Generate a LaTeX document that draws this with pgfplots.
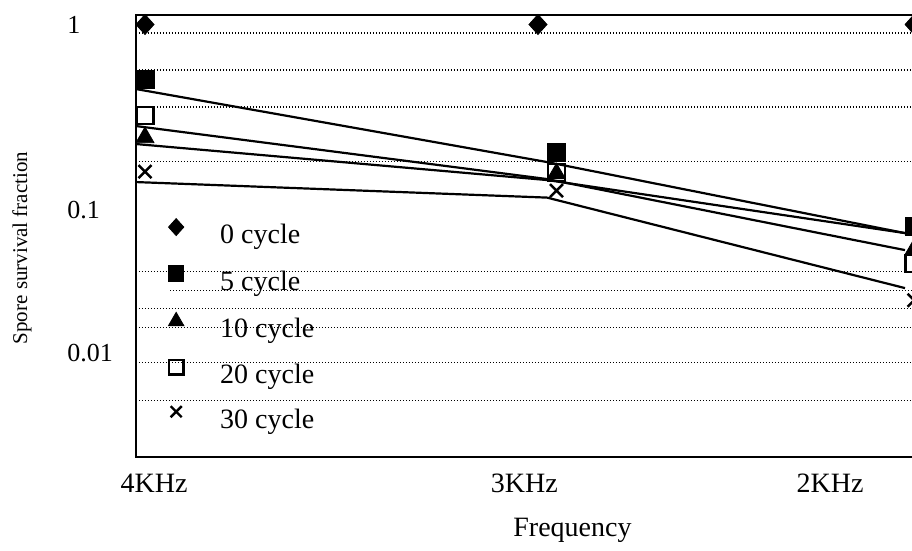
\documentclass[border=0pt]{standalone}
\usepackage{fontspec}
\setmainfont{Liberation Serif}
\usepackage{pgfplots}
\usepackage{pgfplotstable}
\pgfplotsset{compat=1.18}

% survival fraction read at each marker
\pgfplotstableread{
freq  xm     x0     c0   c5     c10    c20    c30
4     0      0      1    0.509  0.247  0.324  0.162
3     1      0.955  1    0.206  0.158  0.160  0.128
2     1.869  1.869  1    0.0772 0.0535 0.0425 0.0235
}\markdata

% vertices of the connecting lines
\pgfplotstableread{
freq  xl       c5     c10    c20    c30
4     -0.02187 0.4499 0.2278 0.2846 0.1423
3     0.9769   0.1823 0.1459 0.1477 0.1174
2     1.8469   0.0695 0.0695 0.0528 0.02859
}\linedata

\tikzset{dotgrid/.style={black, line width=0.6pt, dash pattern=on 0.6pt off 0.9pt}}
\pgfplotsset{
  mk/.style={black, only marks,
    legend image code/.code={\draw[##1] plot coordinates {(0pt,0pt)};}},
}

\begin{document}
\begin{tikzpicture}
\begin{axis}[
  name=ax,
  scale only axis,
  width=399.5pt, height=221pt,
  clip=false,
  axis line style={line width=1pt},
  major tick length=0pt,
  xmin=-0.02187, xmax=1.9198,
  % survival fraction on a stretched logarithmic scale
  y coord trafo/.code={%
    \pgfmathparse{log10(#1)}\let\Lv=\pgfmathresult
    \pgfmathparse{\Lv >= -1 ? 186*\Lv : -186+142.5*(\Lv+1)}},
  y coord inv trafo/.code={%
    \pgfmathparse{#1 >= -186 ? 10^(#1/186) : 10^(-1+(#1+186)/142.5)}},
  ymin=0.001872, ymax=1.129,
  xtick={0.0219,0.922,1.665},
  xticklabels={4KHz,3KHz,2KHz},
  xticklabel style={anchor=north, inner sep=0pt, yshift=-8.4pt,
    font=\fontsize{14}{16}\selectfont},
  ytick={1,0.1,0.01},
  yticklabels={1,0.1,0.01},
  yticklabel style={anchor=west, inner sep=0pt, xshift=-34.5pt,
    font=\fontsize{13}{15}\selectfont},
  extra y ticks={0.9000,0.5691,0.3601,0.1823,0.03701,0.02036,0.01522,0.008371,0.004603},
  extra y tick labels={},
  extra y tick style={grid=major, major grid style={dotgrid}},
  xlabel={Frequency},
  xlabel style={at={(axis description cs:0.5463,0)}, anchor=north,
    inner sep=0pt, yshift=-30.65pt, font=\fontsize{14}{16}\selectfont},
  ylabel={Spore survival fraction},
  ylabel style={at={(axis description cs:-0.1427,0.4722)}, anchor=center,
    inner sep=0pt, font=\fontsize{10.5}{12}\selectfont},
  legend cell align=left,
  legend style={draw=none, fill=none,
    at={(axis description cs:0.0407,0.5387)}, anchor=north west,
    inner sep=0pt, outer sep=0pt, row sep=0pt, column sep=18.2pt,
    nodes={inner sep=0pt, text height=11.1pt, text depth=11.1pt,
      font=\fontsize{14}{16}\selectfont}},
  legend image post style={yshift=8.3pt,
    /tikz/every mark/.append style={scale=0.85}},
]
% short dotted rule under the legend
\addplot[dotgrid, forget plot] coordinates {(0.0608,0.02767) (1.9198,0.02767)};

% connecting lines
\addplot[black, line width=1.1pt, forget plot] table[x=xl, y=c5]  {\linedata};
\addplot[black, line width=1.1pt, forget plot] table[x=xl, y=c10] {\linedata};
\addplot[black, line width=1.1pt, forget plot] table[x=xl, y=c20] {\linedata};
\addplot[black, line width=1.1pt, forget plot] table[x=xl, y=c30] {\linedata};

% markers
\addplot[mk, mark=diamond*, mark size=5pt, line width=0.4pt,
  mark options={xscale=1.2}] table[x=x0, y=c0] {\markdata};
\addlegendentry{0 cycle}
\addplot[mk, mark=square*, mark size=4.5pt, line width=0.4pt]
  table[x=xm, y=c5] {\markdata};
\addlegendentry{5 cycle}
\addplot[mk, mark=triangle*, mark size=5.2pt, line width=0.4pt]
  table[x=xm, y=c10] {\markdata};
\addlegendentry{10 cycle}
\addplot[mk, mark=square, mark size=4.3pt, line width=1.2pt,
  mark options={line width=1.2pt}]
  table[x=xm, y=c20] {\markdata};
\addlegendentry{20 cycle}
\addplot[mk, mark=x, mark size=4.6pt, line width=1.2pt,
  mark options={line width=1.2pt}]
  table[x=xm, y=c30] {\markdata};
\addlegendentry{30 cycle}
\end{axis}
\pgfresetboundingbox
\path[use as bounding box] ([shift={(-68pt,-47.15pt)}]ax.south west)
  rectangle ([shift={(388pt,7.35pt)}]ax.north west);
\end{tikzpicture}
\end{document}
